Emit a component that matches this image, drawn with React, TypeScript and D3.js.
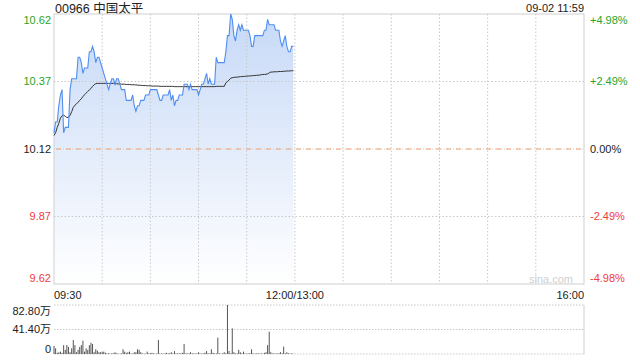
import React from "react";
import * as d3 from "d3";

const TITLE = "00966 中国太平";
const STAMP = "09-02 11:59";
const PREV_CLOSE = 10.12;

const priceTicks = [10.62, 10.37, 10.12, 9.87, 9.62];
const pctLabels = ["+4.98%", "+2.49%", "0.00%", "-2.49%", "-4.98%"];
const volTicks = [82.8, 41.4, 0];
const volLabels = ["82.80万", "41.40万", "0"];
const timeLabels = ["09:30", "12:00/13:00", "16:00"];
const timeLabelMinutes = [0, 150, 330];

// per-minute last price, 09:30 .. 11:59
const prices = [
  10.18, 10.22, 10.22, 10.28, 10.32, 10.34, 10.18, 10.20, 10.20, 10.20,
  10.34, 10.38, 10.38, 10.38, 10.38, 10.46, 10.46, 10.44, 10.40, 10.42,
  10.42, 10.42, 10.48, 10.48, 10.50, 10.48, 10.44, 10.46, 10.46, 10.44,
  10.42, 10.40, 10.38, 10.36, 10.34, 10.36, 10.38, 10.38, 10.36, 10.38,
  10.38, 10.36, 10.34, 10.34, 10.34, 10.30, 10.30, 10.30, 10.30, 10.32,
  10.28, 10.26, 10.28, 10.28, 10.30, 10.30, 10.30, 10.32, 10.32, 10.32,
  10.34, 10.34, 10.34, 10.34, 10.34, 10.32, 10.30, 10.30, 10.32, 10.32,
  10.32, 10.32, 10.34, 10.30, 10.32, 10.28, 10.30, 10.30, 10.32, 10.32,
  10.32, 10.36, 10.36, 10.36, 10.34, 10.36, 10.34, 10.34, 10.34, 10.34,
  10.32, 10.34, 10.36, 10.36, 10.38, 10.40, 10.36, 10.38, 10.36, 10.36,
  10.36, 10.46, 10.44, 10.44, 10.44, 10.44, 10.44, 10.48, 10.54, 10.54,
  10.62, 10.60, 10.54, 10.52, 10.56, 10.58, 10.56, 10.58, 10.56, 10.56,
  10.56, 10.56, 10.54, 10.50, 10.50, 10.54, 10.54, 10.54, 10.54, 10.54,
  10.54, 10.56, 10.56, 10.60, 10.58, 10.58, 10.58, 10.58, 10.56, 10.56,
  10.56, 10.52, 10.50, 10.52, 10.54, 10.50, 10.48, 10.48, 10.50, 10.50,
];

// per-minute average price
const avgPrices = [
  10.17, 10.18, 10.2, 10.215, 10.235, 10.243, 10.246, 10.241, 10.237, 10.237,
  10.245, 10.258, 10.274, 10.282, 10.287, 10.293, 10.3, 10.306, 10.314, 10.321,
  10.327, 10.333, 10.339, 10.344, 10.352, 10.358, 10.362, 10.363, 10.363, 10.363,
  10.363, 10.363, 10.363, 10.363, 10.363, 10.363, 10.363, 10.363, 10.362, 10.362,
  10.361, 10.361, 10.36, 10.36, 10.36, 10.359, 10.359, 10.359, 10.358, 10.358,
  10.358, 10.357, 10.357, 10.356, 10.356, 10.355, 10.355, 10.355, 10.354, 10.354,
  10.354, 10.353, 10.353, 10.353, 10.353, 10.353, 10.352, 10.352, 10.352, 10.352,
  10.352, 10.352, 10.352, 10.352, 10.352, 10.351, 10.351, 10.351, 10.351, 10.351,
  10.351, 10.351, 10.351, 10.351, 10.351, 10.351, 10.351, 10.351, 10.351, 10.351,
  10.351, 10.351, 10.351, 10.351, 10.351, 10.351, 10.351, 10.351, 10.351, 10.351,
  10.351, 10.352, 10.352, 10.352, 10.352, 10.352, 10.352, 10.365, 10.37, 10.375,
  10.382, 10.384, 10.385, 10.386, 10.386, 10.387, 10.388, 10.388, 10.389, 10.389,
  10.39, 10.39, 10.391, 10.391, 10.392, 10.392, 10.393, 10.393, 10.394, 10.395,
  10.396, 10.396, 10.397, 10.398, 10.402, 10.405, 10.405, 10.406, 10.406, 10.406,
  10.407, 10.407, 10.407, 10.408, 10.408, 10.409, 10.409, 10.409, 10.41, 10.41,
];

// per-minute volume, 万股
const volumes = [
  13.5, 9.6, 2, 3, 4, 2, 15, 7, 15, 12,
  3, 9.6, 23.7, 15, 3, 7, 12, 15, 22.5, 4,
  9.6, 7, 15, 19, 17, 3, 8, 5.6, 3, 3,
  4, 4, 2.2, 1, 1.2, 0.5, 1, 1.2, 3, 1.2,
  0.5, 0.5, 1, 8, 4, 2, 3, 4, 1, 0.5,
  3, 3, 8, 7, 3, 1, 0.5, 0.5, 4, 1,
  1.2, 2, 1, 0.5, 0.5, 23.7, 0.5, 1, 0.5, 1,
  2, 1, 1.2, 3, 1, 5, 1, 1, 1, 1,
  2, 17, 1, 1, 1, 3, 1, 1, 0.5, 1,
  3, 1, 0.5, 1, 2, 5, 1, 1, 8, 2,
  1, 1, 27.6, 1, 0.5, 1, 3, 1, 82.8, 5,
  1, 43.4, 3, 1, 1, 7, 3, 1, 4, 1,
  0.5, 1, 1, 8, 1, 0.5, 1, 1, 0.5, 1,
  0.5, 2, 3, 15, 37.7, 3, 1, 1, 0.5, 1,
  1, 3, 1, 12.4, 1, 3, 1, 0.5, 1, 0.5,
];

const W = 640;
const H = 360;
const L = 54;
const R = 584;
const T = 14;
const B = 284;
const VT = 305;
const VB = 354;

const GREEN = "#27a52a";
const RED = "#f03c3c";
const FONT = "'Liberation Sans', Arial, 'Noto Sans CJK SC', sans-serif";

export default function App() {
  const x = d3.scaleLinear().domain([0, 330]).range([L, R]);
  const y = d3.scaleLinear().domain([9.62, 10.62]).range([B, T]);
  const vy = d3.scaleLinear().domain([0, 82.8]).range([VB, VT]);

  const idx = prices.map((_, i) => i);
  const linePath = d3
    .line<number>()
    .x((i) => x(i))
    .y((i) => y(prices[i]))(idx) as string;
  const areaPath = d3
    .area<number>()
    .x((i) => x(i))
    .y0(B)
    .y1((i) => y(prices[i]))(idx) as string;
  const avgPath = d3
    .line<number>()
    .x((i) => x(i))
    .y((i) => y(avgPrices[i]))(idx) as string;

  const vGrid = d3.range(30, 330, 30);
  const labelColor = (p: number) =>
    p > PREV_CLOSE + 1e-9 ? GREEN : p < PREV_CLOSE - 1e-9 ? RED : "#222";

  const clampY = (v: number) => Math.max(T + 6, Math.min(B - 6, v));

  return (
    <svg
      width={W}
      height={H}
      style={{ position: "absolute", left: 0, top: 0, background: "#fff" }}
      fontFamily={FONT}
    >
      <defs>
        <linearGradient id="fillGrad" x1="0" y1={T} x2="0" y2={B} gradientUnits="userSpaceOnUse">
          <stop offset="0%" stopColor="#c6d9f7" />
          <stop offset="50%" stopColor="#e3ecfb" />
          <stop offset="100%" stopColor="#ffffff" />
        </linearGradient>
      </defs>

      <text x={55} y={13} fontSize={12.5} fill="#222">{TITLE}</text>
      <text x={R} y={12} fontSize={11} fill="#222" textAnchor="end">{STAMP}</text>

      {/* price area */}
      <path d={areaPath} fill="url(#fillGrad)" />

      {/* grid */}
      {vGrid.map((m) => (
        <line key={m} x1={x(m)} x2={x(m)} y1={T} y2={B} stroke="#c8c8c8" strokeDasharray="1.5,2" />
      ))}
      {[priceTicks[1], priceTicks[3]].map((p) => (
        <line key={p} x1={L} x2={R} y1={y(p)} y2={y(p)} stroke="#c8c8c8" strokeDasharray="1.5,2" />
      ))}
      <line x1={L} x2={R} y1={y(PREV_CLOSE)} y2={y(PREV_CLOSE)} stroke="#cccccc" strokeDasharray="1,2" />
      <line x1={L + 2} x2={R} y1={y(PREV_CLOSE)} y2={y(PREV_CLOSE)} stroke="#f0a070" strokeDasharray="5,5" />

      <rect x={L} y={T} width={R - L} height={B - T} fill="none" stroke="#cfcfcf" />

      <path d={avgPath} fill="none" stroke="#333" strokeWidth={1} />
      <path d={linePath} fill="none" stroke="#4f8ff0" strokeWidth={1.1} />

      <text x={573} y={283} fontSize={11} fill="#d0d0d0" textAnchor="end">sina.com</text>

      {priceTicks.map((p, i) => (
        <g key={p}>
          <text x={51} y={clampY(y(p))} dy="0.35em" fontSize={11} textAnchor="end" fill={labelColor(p)}>
            {p.toFixed(2)}
          </text>
          <text x={590} y={clampY(y(p))} dy="0.35em" fontSize={11} fill={labelColor(p)}>
            {pctLabels[i]}
          </text>
        </g>
      ))}

      {timeLabels.map((t, i) => (
        <text
          key={t}
          x={x(timeLabelMinutes[i])}
          y={299}
          fontSize={11}
          fill="#222"
          textAnchor={i === 0 ? "start" : i === 1 ? "middle" : "end"}
        >
          {t}
        </text>
      ))}

      {/* volume panel */}
      {volTicks.map((v, i) => (
        <g key={v}>
          <line x1={L} x2={R} y1={vy(v)} y2={vy(v)} stroke="#c8c8c8" strokeDasharray="1.5,1.5" />
          <text
            x={51}
            y={i === 0 ? vy(v) + 6 : i === 2 ? vy(v) - 5 : vy(v)}
            dy="0.35em"
            fontSize={11}
            textAnchor="end"
            fill="#222"
          >
            {volLabels[i]}
          </text>
        </g>
      ))}
      <line x1={R} x2={R} y1={VT} y2={VB} stroke="#cfcfcf" />
      {volumes.map((v, i) => (
        <rect key={i} x={x(i) - 0.5} width={1} y={vy(v)} height={VB - vy(v)} fill="#555" />
      ))}
    </svg>
  );
}
